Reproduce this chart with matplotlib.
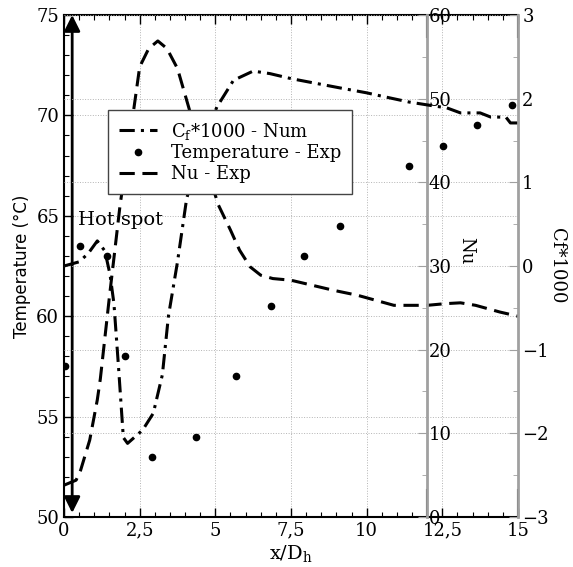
import numpy as np
import matplotlib
matplotlib.use("Agg")
import matplotlib.pyplot as plt
from matplotlib.ticker import MultipleLocator, FuncFormatter

# Data
temp_x = [0.03, 0.53, 1.41, 2.0, 2.9, 4.35, 5.68, 6.84, 7.93, 9.12, 11.4, 12.52, 13.64, 14.8]
temp_val = [57.5, 63.5, 63.0, 58.0, 53.0, 54.0, 57.0, 60.5, 63.0, 64.5, 67.5, 68.5, 69.5, 70.5]

nu_x = [0, 0.4, 0.55, 0.85, 1.1, 1.2, 1.5, 1.85, 2.3, 2.5, 2.8, 3.1, 3.4, 3.75, 4.15, 4.6,
        5.1, 5.5, 5.8, 6.15, 6.5, 6.9, 7.5, 8.2, 8.9, 9.7, 10.3, 10.9, 12.0, 12.6, 13.1,
        13.6, 14.4, 15]
nu_val = [3.8, 4.4, 5.6, 9.2, 14, 16.5, 26.3, 37.2, 48.6, 53.8, 56.0, 56.9, 56.0, 53.6, 48.6, 43,
          37.3, 34.3, 31.9, 29.9, 28.9, 28.5, 28.3, 27.7, 27.1, 26.5, 25.9, 25.3, 25.3, 25.5, 25.6,
          25.3, 24.5, 24.0]

cf_x = [0, 0.5, 0.8, 1.1, 1.35, 1.52, 1.65, 1.8, 1.96, 2.1, 2.6, 2.95, 3.25, 3.45, 3.75, 4.05,
        4.5, 5.05, 5.6, 6.25, 6.8, 7.5, 9.1, 10.0, 10.5, 11.4, 12.1, 12.65, 13.1, 13.75, 14.1,
        14.6, 14.75, 15]
cf_val = [0, 0.05, 0.15, 0.3, 0.18, -0.1, -0.45, -1.2, -2.05, -2.12, -1.96, -1.76, -1.3, -0.6, 0.05, 0.8,
          1.4, 1.9, 2.22, 2.33, 2.3, 2.24, 2.13, 2.07, 2.03, 1.96, 1.92, 1.89, 1.83, 1.83, 1.78,
          1.78, 1.71, 1.71]

plt.rcParams['font.family'] = 'serif'
plt.rcParams['font.serif'] = ['DejaVu Serif']
plt.rcParams['mathtext.fontset'] = 'dejavuserif'


def fmt(v, pos):
    return ('%g' % v).replace('.', ',').replace('-', '\u2212')


fig = plt.figure(figsize=(5.73, 5.67), dpi=100)
ax = fig.add_axes([0.1117, 0.0882, 0.7923, 0.8853])
ax_nu = ax.twinx()
ax_cf = ax.twinx()

grey = '#a0a0a0'
gridc = '#b4b4b4'

# host axis: temperature
ax.plot(temp_x, temp_val, 'o', color='k', ms=4.5, label='Temperature - Exp')
ax.set_xlim(0, 15)
ax.set_ylim(50, 75)
ax.xaxis.set_major_locator(MultipleLocator(2.5))
ax.xaxis.set_minor_locator(MultipleLocator(0.5))
ax.yaxis.set_major_locator(MultipleLocator(5))
ax.yaxis.set_minor_locator(MultipleLocator(1))
ax.xaxis.set_major_formatter(FuncFormatter(fmt))
ax.tick_params(which='both', direction='in', top=True, right=False, labelsize=13)
ax.tick_params(which='major', length=6.5, width=1)
ax.tick_params(which='minor', length=3.5, width=0.8)
ax.grid(True, which='major', linestyle=':', color=gridc, lw=0.7)
for s in ['left', 'top', 'bottom']:
    ax.spines[s].set_linewidth(1.5)
ax.spines['right'].set_visible(False)
ax.set_xlabel('x/D$_\\mathrm{h}$', fontsize=14, labelpad=2)
ax.set_ylabel('Temperature (\u00b0C)', fontsize=12, family='DejaVu Sans')

# Nu axis, spine inside the plot
ax_nu.plot(nu_x, nu_val, color='k', lw=2.2, linestyle=(0, (5, 2.5)), label='Nu - Exp')
ax_nu.set_ylim(0, 60)
ax_nu.spines['right'].set_position(('axes', 0.8))
ax_nu.spines['right'].set_color(grey)
ax_nu.spines['right'].set_linewidth(2)
for s in ['left', 'top', 'bottom']:
    ax_nu.spines[s].set_visible(False)
ax_nu.yaxis.set_major_locator(MultipleLocator(10))
ax_nu.yaxis.set_minor_locator(MultipleLocator(5))
ax_nu.tick_params(which='both', direction='in', color=grey, labelsize=13, pad=1)
ax_nu.tick_params(which='major', length=6.5)
ax_nu.tick_params(which='minor', length=3.5)
ax_nu.grid(True, axis='y', linestyle=':', color=gridc, lw=0.7)
ax_nu.set_ylabel('Nu', fontsize=13, rotation=270)
ax_nu.yaxis.set_label_coords(0.905, 0.53)

# Cf axis
ax_cf.plot(cf_x, cf_val, color='k', lw=2.2, linestyle=(0, (5, 2, 1, 2)), label='C$_\\mathrm{f}$*1000 - Num')
ax_cf.set_ylim(-3, 3)
ax_cf.spines['right'].set_color(grey)
ax_cf.spines['right'].set_linewidth(2)
for s in ['left', 'top', 'bottom']:
    ax_cf.spines[s].set_visible(False)
ax_cf.yaxis.set_major_locator(MultipleLocator(1))
ax_cf.yaxis.set_minor_locator(MultipleLocator(0.5))
ax_cf.yaxis.set_major_formatter(FuncFormatter(fmt))
ax_cf.tick_params(which='both', direction='in', color=grey, labelsize=13, pad=3)
ax_cf.tick_params(which='major', length=6.5)
ax_cf.tick_params(which='minor', length=3.5)
ax_cf.set_ylabel('Cf*1000', fontsize=13, rotation=270)
ax_cf.yaxis.set_label_coords(1.105, 0.5)

# short black spine stubs at the top and bottom
for xv in [12, 15]:
    ax.axvline(xv, ymin=0, ymax=0.054, color='k', lw=1.5)
    ax.axvline(xv, ymin=0.956, ymax=1, color='k', lw=1.5)

# hot spot marker
ax.annotate('', xy=(0.27, 75), xytext=(0.27, 50.2),
            arrowprops=dict(arrowstyle='<|-|>', color='k', lw=2, mutation_scale=24,
                            shrinkA=0, shrinkB=0))
ax.text(0.46, 64.8, 'Hot spot', fontsize=14, va='center', ha='left')

h1, l1 = ax_cf.get_legend_handles_labels()
h2, l2 = ax.get_legend_handles_labels()
h3, l3 = ax_nu.get_legend_handles_labels()
leg = ax_cf.legend(h1 + h2 + h3, l1 + l2 + l3, loc='upper left', bbox_to_anchor=(0.097, 0.811),
                   borderaxespad=0, fontsize=13, fancybox=False, framealpha=1,
                   edgecolor='#444444', handlelength=2.1, borderpad=0.6, labelspacing=0.15)
leg.get_frame().set_linewidth(1)

fig.savefig('out.png', dpi=100)
